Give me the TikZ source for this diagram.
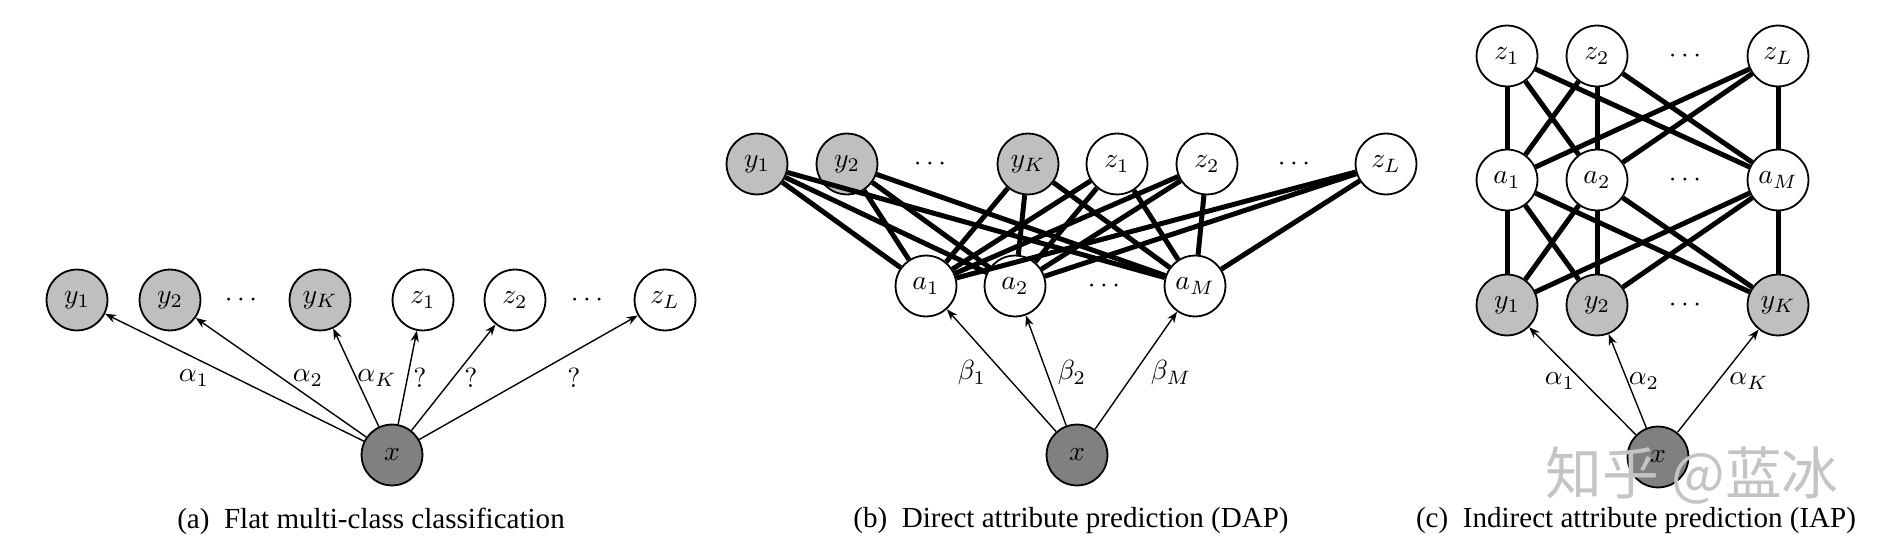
\documentclass[tikz,border=0pt]{standalone}
\usepackage{fontspec}
\usetikzlibrary{arrows.meta}
\newfontfamily\capfont{Liberation Serif}
\newfontfamily\cjkfont{Noto Sans CJK SC}
\definecolor{ygray}{RGB}{191,191,191}
\definecolor{xgray}{RGB}{128,128,128}
\definecolor{wmgray}{RGB}{196,196,196}
\begin{document}
\begin{tikzpicture}[x=0.3612pt,y=-0.3612pt,
  var/.style={circle,draw=black,line width=0.65pt,minimum size=22pt,inner sep=0pt,fill=white},
  obs/.style={var,fill=ygray},
  inp/.style={var,fill=xgray},
  dotsnode/.style={inner sep=0pt},
  arr/.style={line width=0.5pt,-{Stealth[length=4pt,width=3pt]}},
  bond/.style={line width=1.8pt},
  elabel/.style={inner sep=0pt},
  caption/.style={font=\capfont\fontsize{10.5}{12}\selectfont}
]
\useasboundingbox (0,0) rectangle (1887,554);

% ---------- (a) ----------
\node[obs] (ay1) at (77,300) {$y_1$};
\node[obs] (ay2) at (170,300) {$y_2$};
\node[dotsnode] (ad1) at (241,300) {$\cdots$};
\node[obs] (ayK) at (320,300) {$y_K$};
\node[var] (az1) at (423,300) {$z_1$};
\node[var] (az2) at (515,300) {$z_2$};
\node[dotsnode] (ad2) at (587,300) {$\cdots$};
\node[var] (azL) at (665,300) {$z_L$};
\node[inp] (ax) at (392,455) {$x$};
\foreach \t in {ay1,ay2,ayK,az1,az2,azL} \draw[arr] (ax) -- (\t);
\node[elabel] (la1) at (194,378) {$\alpha_1$};
\node[elabel] (la2) at (308,378) {$\alpha_2$};
\node[elabel] (laK) at (377,378) {$\alpha_K$};
\node[elabel] (lq1) at (420,378) {?};
\node[elabel] (lq2) at (471,378) {?};
\node[elabel] (lq3) at (574,378) {?};
\node[caption] (capa) at (371,521) {(a)\hspace{0.5em}Flat multi-class classification};

% ---------- (b) ----------
\node[obs] (by1) at (757,164) {$y_1$};
\node[obs] (by2) at (847,164) {$y_2$};
\node[dotsnode] (bd1) at (930,164) {$\cdots$};
\node[obs] (byK) at (1028,164) {$y_K$};
\node[var] (bz1) at (1117,164) {$z_1$};
\node[var] (bz2) at (1207,164) {$z_2$};
\node[dotsnode] (bd2) at (1294,164) {$\cdots$};
\node[var] (bzL) at (1386,164) {$z_L$};
\node[var] (ba1) at (926,286) {$a_1$};
\node[var] (ba2) at (1015,286) {$a_2$};
\node[dotsnode] (bd3) at (1104,286) {$\cdots$};
\node[var] (baM) at (1195,286) {$a_M$};
\node[inp] (bx) at (1077,455) {$x$};
\foreach \t in {by1,by2,byK,bz1,bz2,bzL}
  \foreach \b in {ba1,ba2,baM} \draw[bond] (\t) -- (\b);
\foreach \b in {ba1,ba2,baM} \draw[arr] (bx) -- (\b);
\node[elabel] (lb1) at (972,373) {$\beta_1$};
\node[elabel] (lb2) at (1072,373) {$\beta_2$};
\node[elabel] (lbM) at (1171,373) {$\beta_M$};
\node[caption] (capb) at (1071,521) {(b)\hspace{0.5em}Direct attribute prediction (DAP)};

% ---------- (c) ----------
\node[var] (cz1) at (1507,56) {$z_1$};
\node[var] (cz2) at (1597,56) {$z_2$};
\node[dotsnode] (cd1) at (1685,56) {$\cdots$};
\node[var] (czL) at (1778,56) {$z_L$};
\node[var] (ca1) at (1507,180) {$a_1$};
\node[var] (ca2) at (1597,180) {$a_2$};
\node[dotsnode] (cd2) at (1685,180) {$\cdots$};
\node[var] (caM) at (1778,180) {$a_M$};
\node[obs] (cy1) at (1507,305) {$y_1$};
\node[obs] (cy2) at (1597,305) {$y_2$};
\node[dotsnode] (cd3) at (1685,305) {$\cdots$};
\node[obs] (cyK) at (1778,305) {$y_K$};
\node[inp] (cx) at (1658,457) {$x$};
\foreach \t in {cz1,cz2,czL}
  \foreach \b in {ca1,ca2,caM} \draw[bond] (\t) -- (\b);
\foreach \t in {ca1,ca2,caM}
  \foreach \b in {cy1,cy2,cyK} \draw[bond] (\t) -- (\b);
\foreach \b in {cy1,cy2,cyK} \draw[arr] (cx) -- (\b);
\node[elabel] (lc1) at (1560,381) {$\alpha_1$};
\node[elabel] (lc2) at (1644,381) {$\alpha_2$};
\node[elabel] (lcK) at (1749,381) {$\alpha_K$};
\node[caption] (capc) at (1636,521) {(c)\hspace{0.5em}Indirect attribute prediction (IAP)};

% watermark
\node[font=\cjkfont\fontsize{20.5}{20.5}\selectfont, text=wmgray, inner sep=0pt] (wm) at (1692,476) {知乎 @蓝冰};
\end{tikzpicture}
\end{document}
